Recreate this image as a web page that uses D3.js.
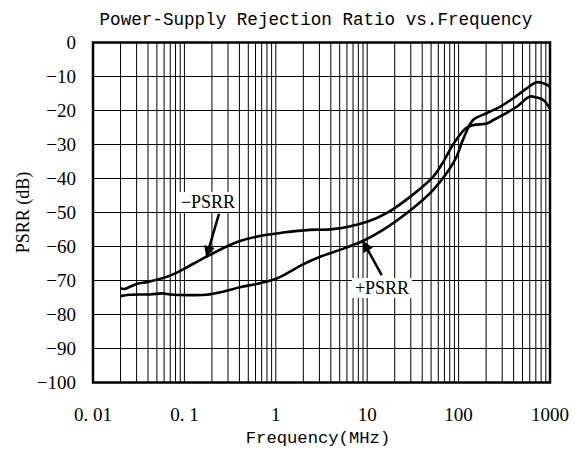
<!DOCTYPE html>
<html>
<head>
<meta charset="utf-8">
<script src="https://cdn.jsdelivr.net/npm/d3@7"></script>
<style>
  body { margin: 0; background: #fff; }
  svg { display: block; }
  .serif { font-family: "Liberation Serif", "DejaVu Serif", serif; }
  .mono { font-family: "Liberation Mono", "DejaVu Sans Mono", monospace; }
</style>
</head>
<body>
<div id="chart"></div>
<script>
const W = 581, H = 452
const margin = { left: 93, right: 31, top: 42.5, bottom: 69.5 }

// Data (frequency in MHz, PSRR in dB)
const minusFreq = [0.02, 0.022, 0.03, 0.04, 0.058, 0.075, 0.1, 0.175, 0.29, 0.405, 0.67, 1.2, 2.37, 4.2, 10, 16.3, 29.4, 52.5, 69, 88, 120, 145, 203, 240, 306, 432, 604, 715, 845, 1000]
const minusPsrr = [-72.3, -72.5, -71, -70.4, -69.3, -68.2, -66.5, -63, -60, -58.4, -56.9, -55.9, -55.1, -54.9, -52.7, -50.2, -45.4, -39.5, -34.8, -29.8, -25.2, -24.3, -23.8, -22.8, -21.3, -18.9, -15.9, -16.2, -16.9, -19.4]

const plusFreq = [0.02, 0.025, 0.042, 0.058, 0.0695, 0.115, 0.175, 0.264, 0.405, 0.67, 1.02, 1.43, 1.84, 3.05, 5.04, 9.06, 14.9, 27, 52.5, 91, 112, 144, 203, 284, 396, 556, 715, 845, 1000]
const plusPsrr = [-74.6, -74.2, -74.1, -73.8, -74.1, -74.3, -74.2, -73.3, -72, -70.8, -69.4, -67.4, -65.7, -63, -61, -58.3, -55.1, -50.2, -43.4, -34.6, -28.5, -22.8, -20.8, -18.9, -16.4, -13.5, -11.7, -12, -13]

const xTicks = [0.01, 0.1, 1, 10, 100, 1000]
const xTickLabels = ['0. 01', '0. 1', '1', '10', '100', '1000']
const yTicks = [0, -10, -20, -30, -40, -50, -60, -70, -80, -90, -100]

const svg = d3.select('#chart').append('svg')
    .attr('width', W)
    .attr('height', H)

const x = d3.scaleLog().domain([0.01, 1000]).range([margin.left, W - margin.right])
const y = d3.scaleLinear().domain([-100, 0]).range([H - margin.bottom, margin.top])

// minor + major vertical grid
const vgrid = []
xTicks.slice(0, -1).forEach(d => {
    for (let k = 1; k < 10; k++) vgrid.push(d * k)
})
svg.append('g')
    .selectAll('line')
    .data(vgrid)
    .join('line')
    .attr('x1', d => x(d)).attr('x2', d => x(d))
    .attr('y1', y(0)).attr('y2', y(-100))
    .attr('stroke', '#000')
    .attr('stroke-width', 1)

svg.append('g')
    .selectAll('line')
    .data(yTicks)
    .join('line')
    .attr('x1', x(0.01)).attr('x2', x(1000))
    .attr('y1', d => y(d)).attr('y2', d => y(d))
    .attr('stroke', '#000')
    .attr('stroke-width', 1.2)

// curves
const line = d3.line()
    .x(d => x(d[0]))
    .y(d => y(d[1]))
    .curve(d3.curveCatmullRom.alpha(0.5))

const series = [
    d3.zip(minusFreq, minusPsrr),
    d3.zip(plusFreq, plusPsrr)
]
svg.append('g')
    .selectAll('path')
    .data(series)
    .join('path')
    .attr('d', line)
    .attr('fill', 'none')
    .attr('stroke', '#000')
    .attr('stroke-width', 2.6)
    .attr('stroke-linejoin', 'round')

// frame
svg.append('rect')
    .attr('x', x(0.01)).attr('y', y(0))
    .attr('width', x(1000) - x(0.01))
    .attr('height', y(-100) - y(0))
    .attr('fill', 'none')
    .attr('stroke', '#000')
    .attr('stroke-width', 2.5)

// annotations: label box + arrow pointing at curve
const notes = [
    { text: '\u2212PSRR', lx: 208, ly: 208, from: [0.239, -50.4], to: [0.175, -62.8] },
    { text: '+PSRR', lx: 382, ly: 294, from: [14.4, -68.4], to: [9.06, -58.6] }
]
svg.append('defs').append('marker')
    .attr('id', 'arrow')
    .attr('viewBox', '0 0 10 10')
    .attr('refX', 9).attr('refY', 5)
    .attr('markerWidth', 5).attr('markerHeight', 4.4)
    .attr('markerUnits', 'strokeWidth')
    .attr('orient', 'auto')
    .append('path')
    .attr('d', 'M0,0 L10,5 L0,10 z')
    .attr('fill', '#000')

const note = svg.append('g').selectAll('g').data(notes).join('g')
note.append('text')
    .attr('class', 'serif')
    .attr('x', d => d.lx).attr('y', d => d.ly)
    .attr('text-anchor', 'middle')
    .attr('font-size', 18)
    .text(d => d.text)
    .each(function (d) {
        const b = this.getBBox()
        d3.select(this.parentNode).insert('rect', 'text')
            .attr('x', b.x - 3).attr('y', b.y)
            .attr('width', b.width + 6).attr('height', b.height)
            .attr('fill', '#fff')
    })
note.append('line')
    .attr('x1', d => x(d.from[0])).attr('y1', d => y(d.from[1]))
    .attr('x2', d => x(d.to[0])).attr('y2', d => y(d.to[1]))
    .attr('stroke', '#000')
    .attr('stroke-width', 2.5)
    .attr('marker-end', 'url(#arrow)')

// tick labels
svg.append('g')
    .selectAll('text')
    .data(xTicks)
    .join('text')
    .attr('class', 'serif')
    .attr('x', d => x(d))
    .attr('y', 421)
    .attr('text-anchor', 'middle')
    .attr('font-size', 19)
    .text((d, i) => xTickLabels[i])

svg.append('g')
    .selectAll('text')
    .data(yTicks)
    .join('text')
    .attr('class', 'serif')
    .attr('x', 76)
    .attr('y', d => y(d))
    .attr('dy', '0.33em')
    .attr('text-anchor', 'end')
    .attr('font-size', 19)
    .text(d => d === 0 ? '0' : '\u2212' + Math.abs(d))

// titles
svg.append('text')
    .attr('class', 'mono')
    .attr('x', 316)
    .attr('y', 25)
    .attr('text-anchor', 'middle')
    .attr('font-size', 17.6)
    .text('Power-Supply Rejection Ratio vs.Frequency')

svg.append('text')
    .attr('class', 'mono')
    .attr('x', 318)
    .attr('y', 443)
    .attr('text-anchor', 'middle')
    .attr('font-size', 17.2)
    .text('Frequency(MHz)')

svg.append('text')
    .attr('class', 'serif')
    .attr('transform', `translate(29,${(y(0) + y(-100)) / 2}) rotate(-90)`)
    .attr('text-anchor', 'middle')
    .attr('font-size', 18)
    .text('PSRR (dB)')
</script>
</body>
</html>
